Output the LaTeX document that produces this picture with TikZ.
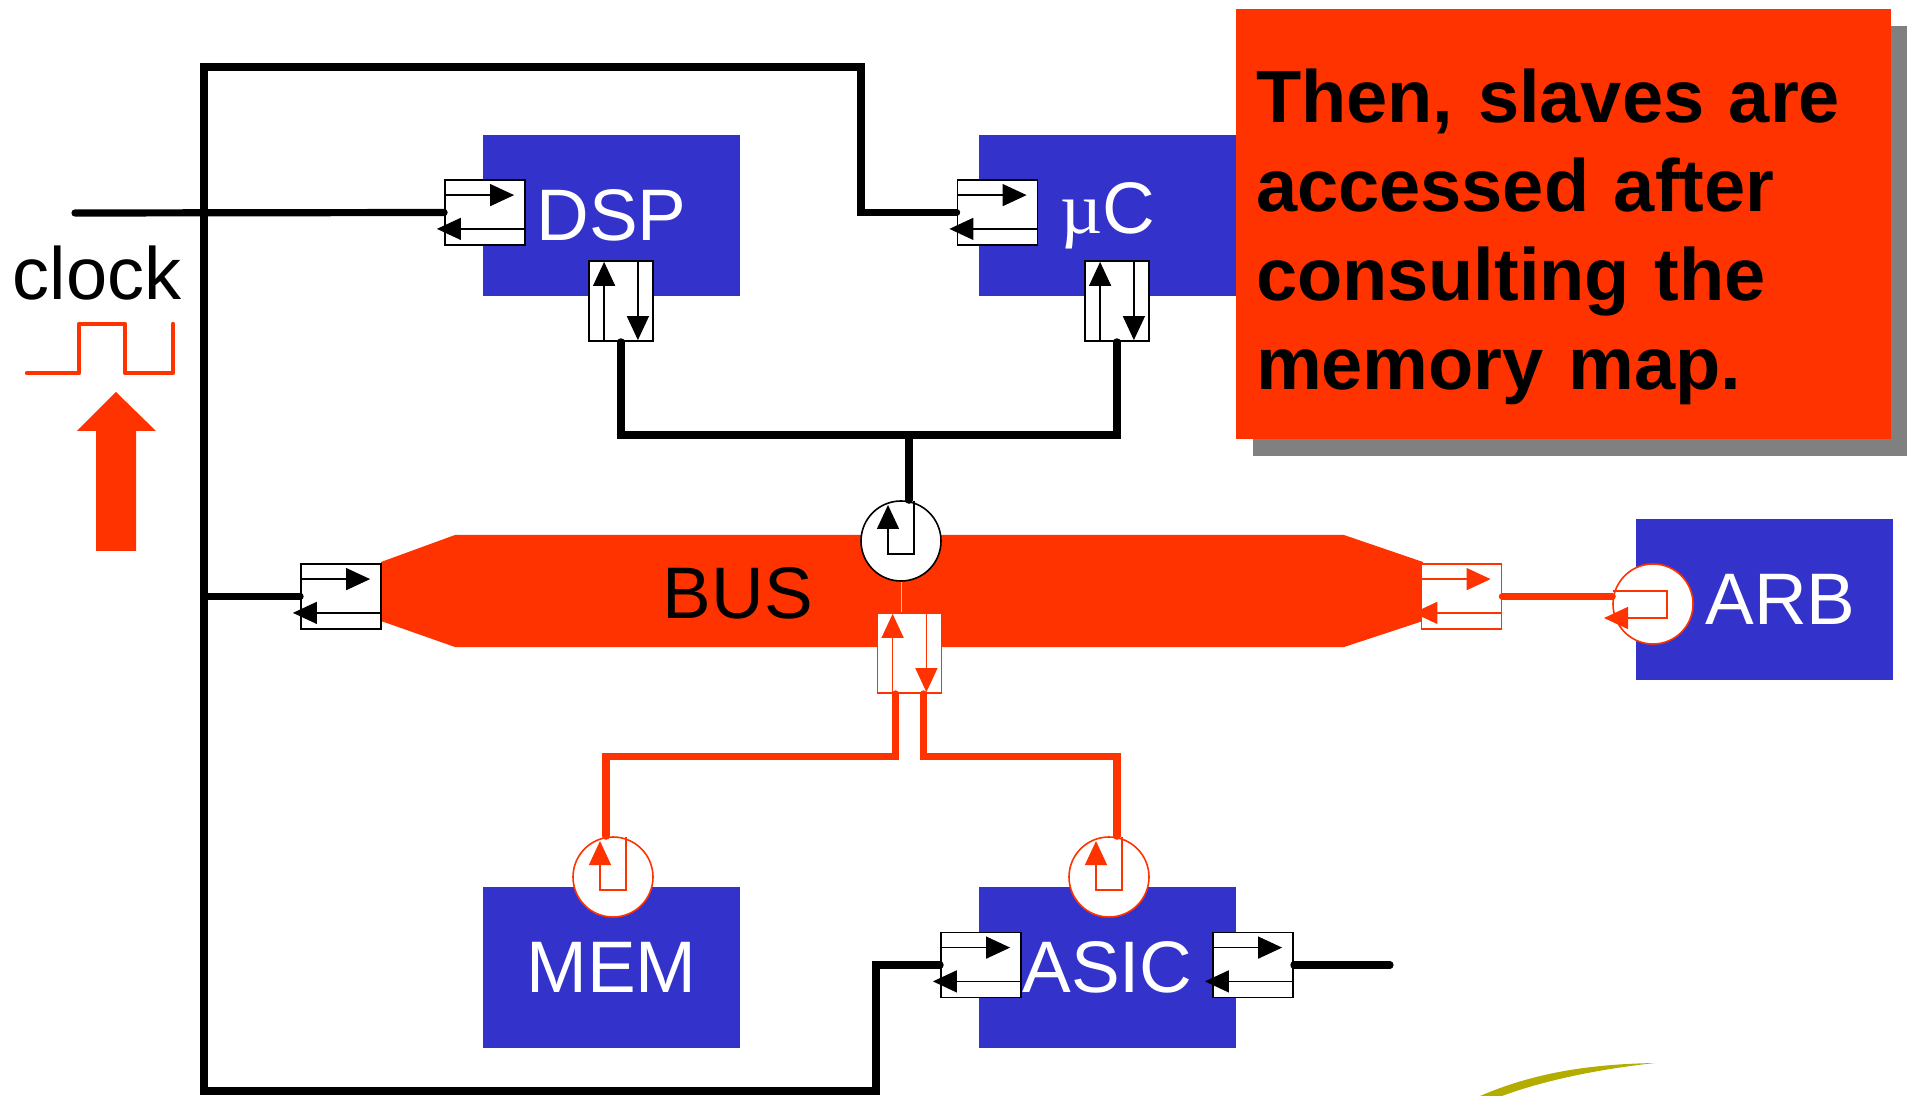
\documentclass[tikz,border=0pt]{standalone}
\usepackage{fontspec}
\setmainfont{Liberation Sans}
\newfontfamily\symfont{Liberation Serif}
\usepackage{tikz}
\usetikzlibrary{arrows.meta,positioning,calc,shadows}

\definecolor{blockblue}{HTML}{3333CC}
\definecolor{busred}{HTML}{FF3300}
\definecolor{swoosh}{HTML}{B3AD00}

\tikzset{
  hstrobe/.style={line width=0.7pt, -{Triangle[length=12pt,width=11pt]}},
  block/.style={fill=blockblue, text=white, minimum width=128.5pt, minimum height=80.5pt,
    inner sep=0pt, font=\fontsize{36.5}{40}\selectfont},
  hport/.style={draw, fill=white, line width=0.9pt, minimum width=40pt, minimum height=32.5pt, inner sep=0pt},
  vport/.style={hport, minimum width=32pt, minimum height=40pt},
  token/.style={circle, draw, fill=white, line width=0.8pt, minimum size=40pt, inner sep=0pt},
  wire/.style={line width=3.6pt, line cap=round},
  redwire/.style={wire, draw=busred},
  note/.style={fill=busred, minimum width=327.5pt, minimum height=215pt, text width=307.5pt,
    inner xsep=10pt, align=left, font=\bfseries\fontsize{37}{44.5}\selectfont},
}

% two-way handshake inside a horizontal port
\newcommand{\duplexh}[2]{%
  \draw[#2, hstrobe] ($(#1.north west)+(0,16)$) -- ++(70,0);
  \draw[#2, hstrobe] ($(#1.south east)+(0,-17)$) -- ++(-89,0);
}
% same thing, standing up
\newcommand{\duplexv}[2]{%
  \draw[#2, hstrobe] ($(#1.south west)+(16,0)$) -- ++(0,-80);
  \draw[#2, hstrobe] ($(#1.north east)+(-16,0)$) -- ++(0,80);
}
% request/grant loop in a bus token
\newcommand{\tokenloop}[2]{%
  \draw[#2, hstrobe] ($(#1)+(13,-40)$) -- ++(0,53) -- ++(-26,0) -- ++(0,-49);
}

\begin{document}
\begin{tikzpicture}[x=0.5pt, y=-0.5pt]
  \useasboundingbox (0,0) rectangle (1907,1096);

  % the bus itself
  \fill[busred] (381,562) -- (455,535) -- (1344,535) -- (1423,562) -- (1423,621)
    -- (1344,647) -- (455,647) -- (381,621) -- cycle;
  \node[font=\fontsize{36.5}{40}\selectfont] (bus) at (738,593) {BUS};

  % processing blocks
  \node[block] (dsp)  at (611.5,215.5) {DSP};
  \node[block] (uc)   at (1107.5,215.5) {{\symfont µ}C};
  \node[block] (mem)  at (611.5,967) {MEM};
  \node[block] (asic) at (1107.5,967) {ASIC};
  \node[block] (arb)  at (1764.5,599.5) {\hspace{16pt}ARB};

  % ports
  \node[hport] (dspL)  at (485,212.5) {};
  \node[vport] (dspB)  at (621,301) {};
  \node[hport] (ucL)   at (997.5,212.5) {};
  \node[vport] (ucB)   at (1117,301) {};
  \node[hport] (busL)  at (341,596.5) {};
  \node[hport, draw=busred] (busR) at (1461.5,596.5) {};
  \node[vport, draw=busred] (busB) at (909.5,653) {};
  \node[hport] (asicL) at (981,965) {};
  \node[hport] (asicR) at (1253,965) {};
  \duplexh{dspL}{black}
  \duplexv{dspB}{black}
  \duplexh{ucL}{black}
  \duplexv{ucB}{black}
  \duplexh{busL}{black}
  \duplexh{busR}{busred}
  \duplexv{busB}{busred}
  \duplexh{asicL}{black}
  \duplexh{asicR}{black}

  % tokens
  \node[token] (busT) at (901,541) {};
  \node[token, draw=busred] (memT) at (613,877) {};
  \node[token, draw=busred] (asicT) at (1109,877) {};
  \node[token, draw=busred] (arbT) at (1653,604) {};
  \tokenloop{busT}{black}
  \tokenloop{memT}{busred}
  \tokenloop{asicT}{busred}
  \draw[busred, hstrobe] ($(arbT)+(-40,-13)$) -- ++(54,0) -- ++(0,27) -- ++(-63,0);

  % clock wiring
  \coordinate (clkin) at (75,213);
  \coordinate (ftl) at (204,67);
  \coordinate (ftr) at (861,67);
  \coordinate (fbl) at (204,1091);
  \coordinate (fbr) at (876,1091);
  \coordinate (asicout) at (1390,965);
  \draw[wire] (clkin) -- (dspL.west);
  \draw[wire] (ucL.west) -| (ftr) -- (ftl) -- (fbl) -- (fbr) |- (asicL.west);
  \draw[wire] (busL.west) -- (ftl |- busL.west);
  \draw[wire] (asicR.east) -- (asicout);

  % masters onto the bus
  \coordinate (join) at (909,435);
  \draw[wire] (dspB.south) |- (ucB.south |- join) -- (ucB.south);
  \draw[wire] (join) -- (join |- busT.north);
  \draw[busred!35!white, line width=0.5pt] (busT.south) -- (busT.south |- busB.north);

  % bus out to the slaves and arbiter
  \draw[redwire] ($(busB.south)+(-14,0)$) |- ($(memT.north)+(-7,-80)$) -- ($(memT.north)+(-7,0)$);
  \draw[redwire] ($(busB.south)+(14,0)$) |- ($(asicT.north)+(8,-80)$) -- ($(asicT.north)+(8,0)$);
  \draw[redwire] (busR.east) -- (busR.east -| arbT.west);

  % clock signal
  \node[font=\fontsize{37}{40}\selectfont, anchor=base] (clocklbl) at (97,300) {clock};
  \draw[busred, line width=2.2pt, line cap=round, line join=round]
    (27,373) -- (79,373) -- (79,324) -- (125,324) -- (125,373) -- (173,373) -- (173,324);
  \fill[busred] (116,392) -- (156,431) -- (136,431) -- (136,551) -- (96,551)
    -- (96,431) -- (77,431) -- cycle;

  % callout
  \node[note, drop shadow={shadow xshift=8.5pt, shadow yshift=-8.5pt, fill=gray, opacity=1}]
    (callout) at (1563.5,224) {\rule{0pt}{40pt}Then, slaves are\\accessed after\\consulting the\\memory map.};

  % logo edge
  \fill[swoosh] (1480,1096) .. controls (1540,1070) and (1600,1064) .. (1655,1063)
    .. controls (1600,1069) and (1545,1080) .. (1502,1096) -- cycle;
\end{tikzpicture}
\end{document}
